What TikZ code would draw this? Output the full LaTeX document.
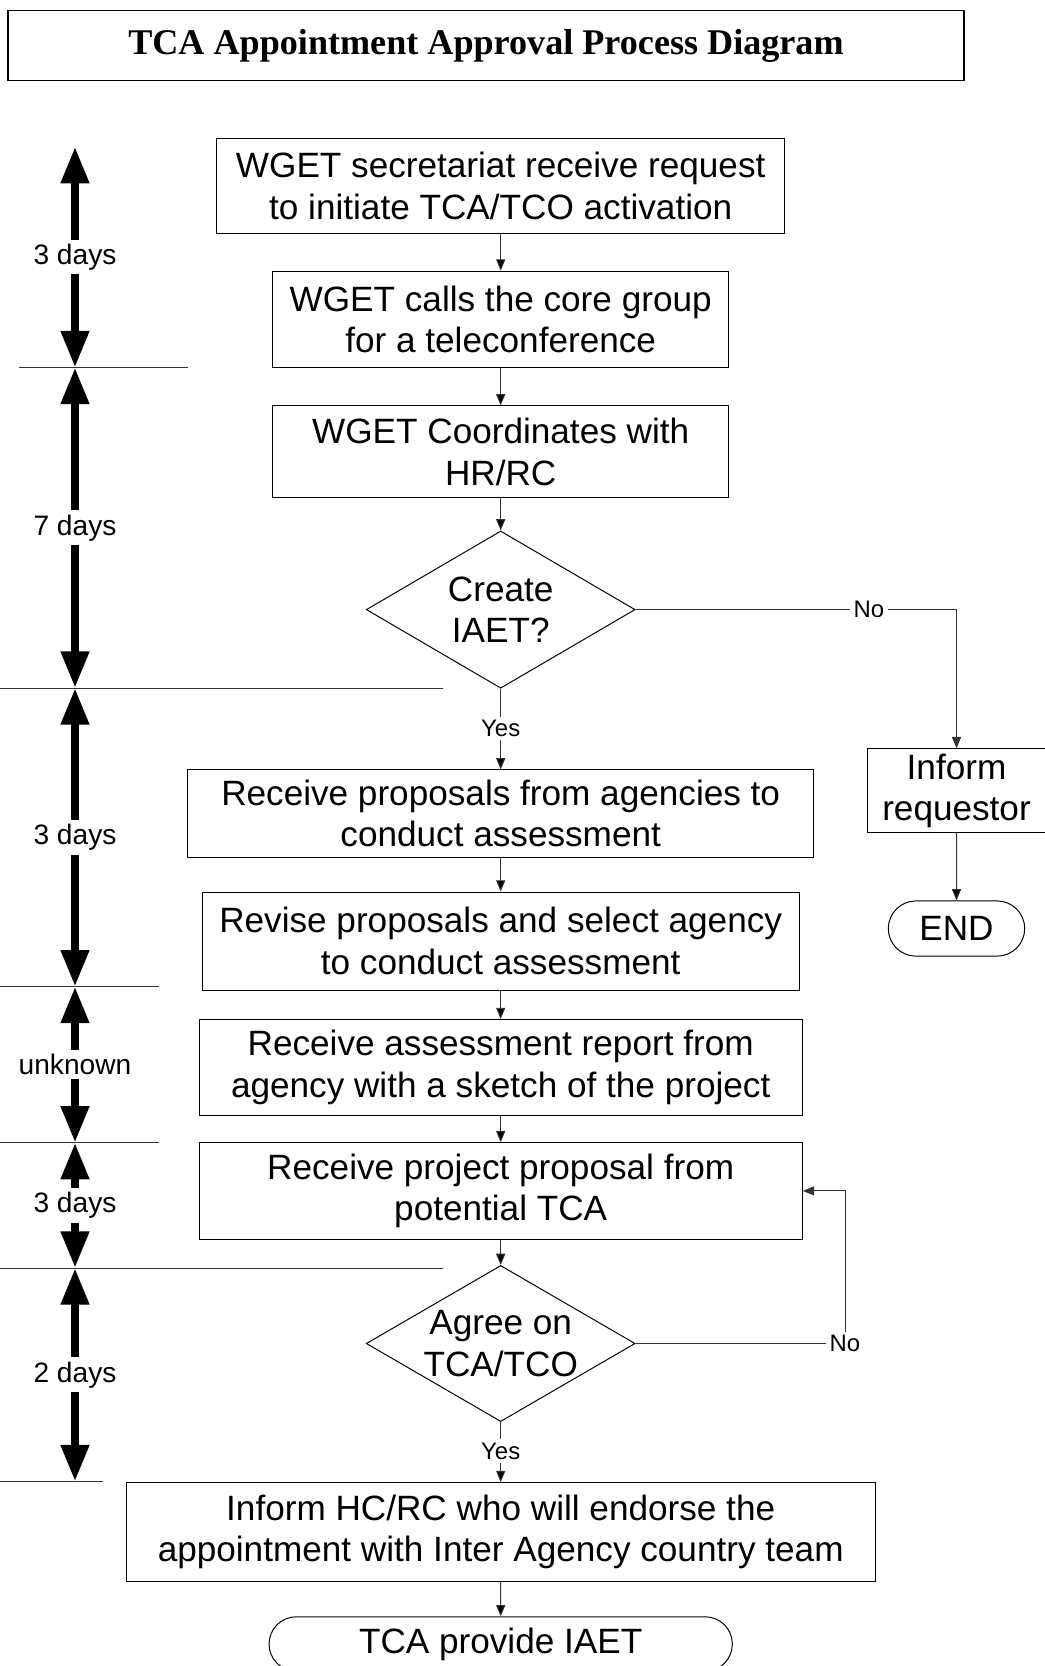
\documentclass[tikz,border=0pt]{standalone}
\usepackage{fontspec}
\setmainfont{Liberation Sans}
\newfontfamily\titlefont{Liberation Serif}
\usetikzlibrary{arrows.meta,shapes.geometric,shapes.misc,positioning}

\begin{document}
\begin{tikzpicture}[>={Triangle[width=6.5pt,length=8pt]}, auto, x=0.025cm, y=-0.025cm, line width=0.7pt]
	\tikzstyle{every node}=[font=\fontsize{25}{29.4}\selectfont]
	\tikzstyle{process}=[draw=black,rectangle,align=center,inner sep=2pt]
	\tikzstyle{decision}=[draw=black,diamond,shape aspect=1.71,align=center,inner sep=0pt,minimum width=6.72cm,minimum height=3.93cm]
	\tikzstyle{terminal}=[draw=black,rounded rectangle,align=center,inner sep=2pt]
	\tikzstyle{answer}=[font=\fontsize{17}{20}\selectfont,inner sep=2pt]
	\tikzstyle{days}=[font=\fontsize{20}{24}\selectfont,fill=white,inner sep=3pt,auto=false,anchor=center]
	\tikzstyle{period}=[line width=5.7pt,{Triangle[width=19pt,length=26pt]}-{Triangle[width=19pt,length=26pt]}]
	\tikzstyle{divider}=[draw=black!80,line width=0.7pt]
	\tikzstyle{flow}=[draw=black!80,->]
	\useasboundingbox (0,0) rectangle (1045,1666);

	% title
	\node[draw=black,line width=1.2pt,minimum width=23.9cm,minimum height=1.75cm,font=\titlefont\bfseries\fontsize{25.7}{30}\selectfont] (title) at (486,45.6) {TCA Appointment Approval Process Diagram};

	% main column
	\node[process,minimum width=14.2cm,minimum height=2.39cm]  (req)   at (500.7,185.8)  {WGET secretariat receive request\\to initiate TCA/TCO activation};
	\node[process,minimum width=11.39cm,minimum height=2.41cm] (call)  at (500.7,319.3)  {WGET calls the core group\\for a teleconference};
	\node[process,minimum width=11.39cm,minimum height=2.3cm]  (coord) at (500.7,451.9)  {WGET Coordinates with\\HR/RC};
	\node[decision]                                            (iaet)  at (500.7,609.6)  {Create\\IAET?};
	\node[process,minimum width=15.64cm,minimum height=2.18cm] (recv)  at (500.7,813.5)  {Receive proposals from agencies to\\conduct assessment};
	\node[process,minimum width=14.92cm,minimum height=2.45cm] (rev)   at (500.7,941)    {Revise proposals and select agency\\to conduct assessment};
	\node[process,minimum width=15.08cm,minimum height=2.39cm] (rep)   at (500.7,1067.3) {Receive assessment report from\\agency with a sketch of the project};
	\node[process,minimum width=15.08cm,minimum height=2.41cm] (prop)  at (500.7,1190.9) {Receive project proposal from\\potential TCA};
	\node[decision,minimum height=3.88cm]                      (agree) at (500.7,1343.5) {Agree on\\TCA/TCO};
	\node[process,minimum width=18.72cm,minimum height=2.46cm] (hc)    at (500.7,1531.8) {Inform HC/RC who will endorse the\\appointment with Inter Agency country team};
	\node[terminal,minimum width=11.72cm,minimum height=1.36cm] (tca)  at (500.7,1644) {TCA provide IAET};

	% side branch
	\node[process,minimum width=4.45cm,minimum height=2.1cm]   (inf)   at (956.5,790.7)  {Inform\\requestor};
	\node[terminal,minimum width=3.55cm,minimum height=1.38cm] (end)   [below=1.68cm of inf] {END};

	\node[answer] (yes1) at (500.7,728.5)  {Yes};
	\node[answer] (no1)  at (869,609.6)    {No};
	\node[answer] (yes2) at (500.7,1451)   {Yes};
	\node[answer] (no2)  at (845,1343.5)   {No};

	\path[flow]
	(req)	edge	(call)
	(call)	edge	(coord)
	(coord)	edge	(iaet)
	(iaet)	edge[-]	(yes1)
	(yes1)	edge	(recv)
	(recv)	edge	(rev)
	(rev)	edge	(rep)
	(rep)	edge	(prop)
	(prop)	edge	(agree)
	(agree)	edge[-]	(yes2)
	(yes2)	edge	(hc)
	(hc)	edge	(tca)
	(iaet)	edge[-]	(no1)
	(inf)	edge	(end)
	(agree)	edge[-]	(no2);
	\draw[flow] (no1) -| (inf);
	\draw[flow] (no2) |- (prop);

	% time scale on the left
	\draw[divider] (19,367.5)  -- (188,367.5);
	\draw[divider] (0,688)     -- (443,688);
	\draw[divider] (0,986.6)   -- (159,986.6);
	\draw[divider] (0,1142.7)  -- (159,1142.7);
	\draw[divider] (0,1268)    -- (443,1268);
	\draw[divider] (0,1481.5)  -- (103,1481.5);

	\coordinate (t0) at (75,146.7);
	\coordinate (t1) at (75,367.5);
	\coordinate (t2) at (75,688);
	\coordinate (t3) at (75,986.6);
	\coordinate (t4) at (75,1142.7);
	\coordinate (t5) at (75,1268);
	\coordinate (t6) at (75,1481.5);
	\draw[period] (t0) -- node[days,midway]{3 days}  (t1);
	\draw[period] (t1) -- node[days,midway]{7 days}  (t2);
	\draw[period] (t2) -- node[days,midway]{3 days}  (t3);
	\draw[period] (t3) -- node[days,midway]{unknown} (t4);
	\draw[period] (t4) -- node[days,midway]{3 days}  (t5);
	\draw[period] (t5) -- node[days,midway]{2 days}  (t6);
\end{tikzpicture}
\end{document}
